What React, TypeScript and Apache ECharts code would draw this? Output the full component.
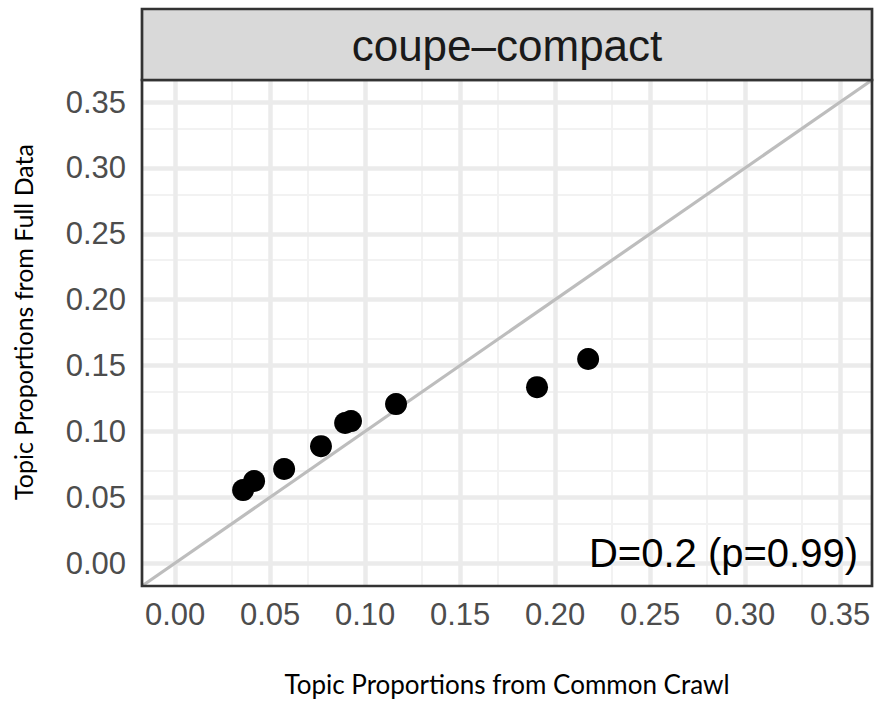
import React, { useEffect, useRef } from "react";
import * as echarts from "echarts";

const panelTitle = "coupe–compact";
const annotation = "D=0.2 (p=0.99)";
const xTitle = "Topic Proportions from Common Crawl";
const yTitle = "Topic Proportions from Full Data";

const commonCrawl = [0.0358, 0.0416, 0.0574, 0.0768, 0.0895, 0.0926, 0.1163, 0.1905, 0.2174];
const fullData = [0.0554, 0.0623, 0.0714, 0.0888, 0.1063, 0.1078, 0.1207, 0.1336, 0.1549];

const majorTicks = [0, 0.05, 0.1, 0.15, 0.2, 0.25, 0.3, 0.35];
const minorTicks = [0.025, 0.075, 0.125, 0.175, 0.225, 0.275, 0.325];
const axisMin = -0.0174;
const axisMax = 0.3668;

const GRID = { left: 142, right: 4, top: 80, bottom: 116 };

export default function App() {
  const ref = useRef<HTMLDivElement>(null);
  useEffect(() => {
    if (!ref.current) return;
    const chart = echarts.init(ref.current, null, { renderer: "svg" });
    const points = commonCrawl.map((x, i) => [x, fullData[i]]);
    const gridLines: any[] = [];
    minorTicks.forEach((v) => {
      gridLines.push({ xAxis: v, lineStyle: { color: "#f2f2f2", width: 2, type: "solid" } });
      gridLines.push({ yAxis: v, lineStyle: { color: "#f2f2f2", width: 2, type: "solid" } });
    });
    majorTicks.forEach((v) => {
      gridLines.push({ xAxis: v, lineStyle: { color: "#ebebeb", width: 4.5, type: "solid" } });
      gridLines.push({ yAxis: v, lineStyle: { color: "#ebebeb", width: 4.5, type: "solid" } });
    });
    const panelW = 876 - GRID.left - GRID.right;
    const panelH = 702 - GRID.top - GRID.bottom;
    chart.setOption({
      animation: false,
      backgroundColor: "#ffffff",
      grid: {
        left: GRID.left,
        right: GRID.right,
        top: GRID.top,
        bottom: GRID.bottom,
        show: false,
      },
      xAxis: {
        type: "value",
        min: axisMin,
        max: axisMax,
        axisLine: { show: false },
        splitLine: { show: false },
        axisTick: {
          show: true,
          customValues: majorTicks,
          length: 9,
          lineStyle: { color: "#333333", width: 3 },
        },
        axisLabel: {
          customValues: majorTicks,
          formatter: (v: number) => v.toFixed(2),
          color: "#4d4d4d",
          fontSize: 31,
          fontFamily: "Liberation Sans, Arial, sans-serif",
          margin: 13,
        },
      },
      yAxis: {
        type: "value",
        min: axisMin,
        max: axisMax,
        axisLine: { show: false },
        splitLine: { show: false },
        axisTick: { show: false, customValues: majorTicks },
        axisLabel: {
          customValues: majorTicks,
          formatter: (v: number) => v.toFixed(2),
          color: "#4d4d4d",
          fontSize: 31,
          fontFamily: "Liberation Sans, Arial, sans-serif",
          margin: 16,
        },
      },
      series: [
        {
          type: "line",
          data: [
            [axisMin, axisMin],
            [axisMax, axisMax],
          ],
          symbol: "none",
          silent: true,
          z: 2,
          lineStyle: { color: "#bdbdbd", width: 3.2 },
          markLine: {
            silent: true,
            symbol: ["none", "none"],
            label: { show: false },
            z: 1,
            data: gridLines,
          },
        },
        {
          type: "scatter",
          data: points,
          symbol: "circle",
          symbolSize: 22,
          itemStyle: { color: "#000000", opacity: 1 },
          z: 3,
        },
      ],
      graphic: [
        {
          type: "rect",
          shape: { x: GRID.left, y: GRID.top, width: panelW, height: panelH },
          style: { fill: "none", stroke: "#333333", lineWidth: 2.7 },
          z: 50,
        },
        {
          type: "rect",
          shape: { x: GRID.left, y: 9, width: panelW, height: GRID.top - 9 },
          style: { fill: "#d9d9d9", stroke: "#333333", lineWidth: 2.7 },
          z: 50,
        },
        {
          type: "text",
          x: GRID.left + panelW / 2,
          y: 45,
          style: {
            text: panelTitle,
            fill: "#1a1a1a",
            font: "44px 'Liberation Sans', Arial, sans-serif",
            align: "center",
            verticalAlign: "middle",
          },
          z: 51,
        },
        {
          type: "text",
          x: 858,
          y: 553,
          style: {
            text: annotation,
            fill: "#000000",
            font: "40px 'Liberation Sans', Arial, sans-serif",
            align: "right",
            verticalAlign: "middle",
          },
          z: 51,
        },
        {
          type: "text",
          x: 507,
          y: 684,
          style: {
            text: xTitle,
            fill: "#000000",
            font: "26px Lato, 'Open Sans', sans-serif",
            align: "center",
            verticalAlign: "middle",
          },
        },
        {
          type: "text",
          x: 23,
          y: 322,
          rotation: Math.PI / 2,
          style: {
            text: yTitle,
            fill: "#000000",
            font: "25px Lato, 'Open Sans', sans-serif",
            align: "center",
            verticalAlign: "middle",
          },
        },
      ],
    });
    return () => chart.dispose();
  }, []);
  return (
    <div
      ref={ref}
      style={{ position: "fixed", left: 0, top: 0, width: 876, height: 702 }}
    />
  );
}
